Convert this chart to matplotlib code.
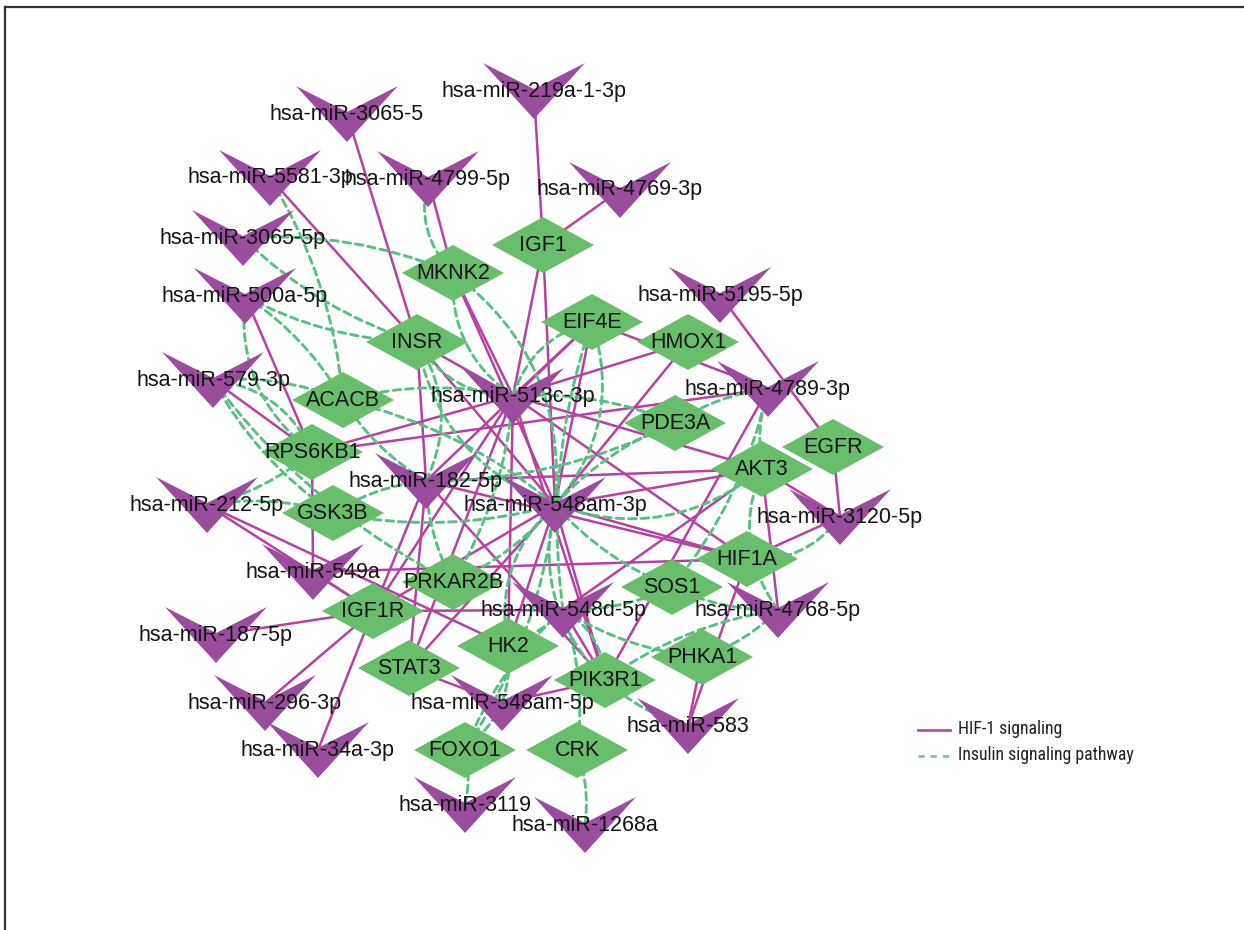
import matplotlib
matplotlib.use("Agg")
import matplotlib.pyplot as plt
from matplotlib.patches import Polygon, FancyArrowPatch
from matplotlib.lines import Line2D
from matplotlib import font_manager
from matplotlib.font_manager import FontProperties

# ---- network data -------------------------------------------------------
mirnas = [
    "hsa-miR-219a-1-3p", "hsa-miR-3065-5", "hsa-miR-5581-3p", "hsa-miR-4799-5p",
    "hsa-miR-4769-3p", "hsa-miR-3065-5p", "hsa-miR-500a-5p", "hsa-miR-579-3p",
    "hsa-miR-5195-5p", "hsa-miR-513c-3p", "hsa-miR-4789-3p", "hsa-miR-182-5p",
    "hsa-miR-548am-3p", "hsa-miR-212-5p", "hsa-miR-3120-5p", "hsa-miR-549a",
    "hsa-miR-4768-5p", "hsa-miR-548d-5p", "hsa-miR-187-5p", "hsa-miR-296-3p",
    "hsa-miR-34a-3p", "hsa-miR-548am-5p", "hsa-miR-583", "hsa-miR-3119",
    "hsa-miR-1268a",
]

genes = [
    "IGF1", "MKNK2", "EIF4E", "INSR", "HMOX1", "ACACB", "PDE3A", "RPS6KB1",
    "EGFR", "AKT3", "GSK3B", "HIF1A", "PRKAR2B", "SOS1", "IGF1R", "HK2",
    "PHKA1", "STAT3", "PIK3R1", "FOXO1", "CRK",
]

# miRNA-target links in the HIF-1 signaling pathway
hif1_edges = [
    ("hsa-miR-219a-1-3p", "IGF1"), ("hsa-miR-4769-3p", "IGF1"),
    ("hsa-miR-3065-5", "INSR"), ("hsa-miR-5581-3p", "INSR"),
    ("hsa-miR-4799-5p", "MKNK2"), ("hsa-miR-500a-5p", "RPS6KB1"),
    ("hsa-miR-579-3p", "RPS6KB1"), ("hsa-miR-5195-5p", "EGFR"),
    ("hsa-miR-4789-3p", "EIF4E"), ("hsa-miR-4789-3p", "PIK3R1"),
    ("hsa-miR-4789-3p", "RPS6KB1"),
    ("hsa-miR-3120-5p", "EGFR"), ("hsa-miR-3120-5p", "AKT3"),
    ("hsa-miR-3120-5p", "HIF1A"), ("hsa-miR-4768-5p", "AKT3"),
    ("hsa-miR-583", "PHKA1"), ("hsa-miR-583", "HIF1A"),
    ("hsa-miR-212-5p", "IGF1R"), ("hsa-miR-212-5p", "HK2"),
    ("hsa-miR-549a", "IGF1R"), ("hsa-miR-549a", "RPS6KB1"),
    ("hsa-miR-549a", "HIF1A"),
    ("hsa-miR-187-5p", "IGF1R"), ("hsa-miR-296-3p", "IGF1R"),
    ("hsa-miR-34a-3p", "IGF1R"),
    ("hsa-miR-548am-5p", "PIK3R1"), ("hsa-miR-548am-5p", "STAT3"),
    ("hsa-miR-548d-5p", "IGF1R"), ("hsa-miR-548d-5p", "PIK3R1"),
    ("hsa-miR-548d-5p", "AKT3"),
    ("hsa-miR-513c-3p", "IGF1"), ("hsa-miR-513c-3p", "MKNK2"),
    ("hsa-miR-513c-3p", "INSR"), ("hsa-miR-513c-3p", "EIF4E"),
    ("hsa-miR-513c-3p", "HMOX1"), ("hsa-miR-513c-3p", "RPS6KB1"),
    ("hsa-miR-513c-3p", "STAT3"), ("hsa-miR-513c-3p", "HK2"),
    ("hsa-miR-513c-3p", "PIK3R1"), ("hsa-miR-513c-3p", "HIF1A"),
    ("hsa-miR-513c-3p", "IGF1R"), ("hsa-miR-513c-3p", "AKT3"),
    ("hsa-miR-548am-3p", "IGF1"), ("hsa-miR-548am-3p", "MKNK2"),
    ("hsa-miR-548am-3p", "EIF4E"), ("hsa-miR-548am-3p", "HMOX1"),
    ("hsa-miR-548am-3p", "INSR"), ("hsa-miR-548am-3p", "AKT3"),
    ("hsa-miR-548am-3p", "HIF1A"), ("hsa-miR-548am-3p", "PIK3R1"),
    ("hsa-miR-548am-3p", "STAT3"), ("hsa-miR-548am-3p", "IGF1R"),
    ("hsa-miR-548am-3p", "HK2"),
    ("hsa-miR-182-5p", "INSR"), ("hsa-miR-182-5p", "AKT3"),
    ("hsa-miR-182-5p", "HIF1A"), ("hsa-miR-182-5p", "STAT3"),
    ("hsa-miR-182-5p", "IGF1R"), ("hsa-miR-182-5p", "PIK3R1"),
    ("hsa-miR-182-5p", "EIF4E"),
]

# miRNA-target links in the insulin signaling pathway
insulin_edges = [
    ("hsa-miR-4799-5p", "MKNK2"), ("hsa-miR-5581-3p", "ACACB"),
    ("hsa-miR-3065-5p", "INSR"), ("hsa-miR-3065-5p", "MKNK2"),
    ("hsa-miR-500a-5p", "INSR"), ("hsa-miR-500a-5p", "ACACB"),
    ("hsa-miR-500a-5p", "RPS6KB1"),
    ("hsa-miR-579-3p", "RPS6KB1"), ("hsa-miR-579-3p", "GSK3B"),
    ("hsa-miR-579-3p", "ACACB"), ("hsa-miR-579-3p", "PRKAR2B"),
    ("hsa-miR-212-5p", "GSK3B"), ("hsa-miR-212-5p", "RPS6KB1"),
    ("hsa-miR-513c-3p", "INSR"), ("hsa-miR-182-5p", "INSR"),
    ("hsa-miR-548am-3p", "INSR"),
    ("hsa-miR-513c-3p", "ACACB"), ("hsa-miR-182-5p", "ACACB"),
    ("hsa-miR-548am-3p", "ACACB"),
    ("hsa-miR-548am-3p", "GSK3B"), ("hsa-miR-182-5p", "GSK3B"),
    ("hsa-miR-513c-3p", "PDE3A"), ("hsa-miR-4789-3p", "PDE3A"),
    ("hsa-miR-548am-3p", "PDE3A"), ("hsa-miR-182-5p", "PDE3A"),
    ("hsa-miR-513c-3p", "EIF4E"), ("hsa-miR-548am-3p", "EIF4E"),
    ("hsa-miR-548d-5p", "EIF4E"),
    ("hsa-miR-548am-3p", "MKNK2"), ("hsa-miR-513c-3p", "MKNK2"),
    ("hsa-miR-4789-3p", "AKT3"), ("hsa-miR-4768-5p", "AKT3"),
    ("hsa-miR-548am-3p", "AKT3"),
    ("hsa-miR-4789-3p", "SOS1"), ("hsa-miR-548am-3p", "SOS1"),
    ("hsa-miR-4768-5p", "SOS1"), ("hsa-miR-548d-5p", "SOS1"),
    ("hsa-miR-548am-3p", "PRKAR2B"), ("hsa-miR-182-5p", "PRKAR2B"),
    ("hsa-miR-513c-3p", "PRKAR2B"),
    ("hsa-miR-548am-5p", "HK2"), ("hsa-miR-548d-5p", "HK2"),
    ("hsa-miR-548am-3p", "HK2"),
    ("hsa-miR-583", "PIK3R1"), ("hsa-miR-4768-5p", "PIK3R1"),
    ("hsa-miR-548d-5p", "PIK3R1"), ("hsa-miR-548am-3p", "PIK3R1"),
    ("hsa-miR-4768-5p", "PHKA1"), ("hsa-miR-548d-5p", "PHKA1"),
    ("hsa-miR-3120-5p", "HIF1A"),
    ("hsa-miR-3119", "FOXO1"), ("hsa-miR-548am-5p", "FOXO1"),
    ("hsa-miR-548d-5p", "FOXO1"), ("hsa-miR-548am-3p", "FOXO1"),
    ("hsa-miR-1268a", "CRK"), ("hsa-miR-548d-5p", "CRK"),
]

legend_labels = ["HIF-1 signaling", "Insulin signaling pathway"]

# ---- layout (pixel coordinates of node centres) -------------------------
layout = {
    "hsa-miR-219a-1-3p": (534, 91), "hsa-miR-3065-5": (347, 114),
    "hsa-miR-5581-3p": (270, 178), "hsa-miR-4799-5p": (428, 179),
    "hsa-miR-4769-3p": (620, 190), "hsa-miR-3065-5p": (243, 238),
    "hsa-miR-500a-5p": (245, 296), "hsa-miR-579-3p": (213, 380),
    "hsa-miR-5195-5p": (720, 295), "hsa-miR-513c-3p": (513, 396),
    "hsa-miR-4789-3p": (768, 389), "hsa-miR-182-5p": (426, 481),
    "hsa-miR-548am-3p": (555, 505), "hsa-miR-212-5p": (207, 505),
    "hsa-miR-3120-5p": (840, 517), "hsa-miR-549a": (313, 572),
    "hsa-miR-4768-5p": (778, 610), "hsa-miR-548d-5p": (563, 610),
    "hsa-miR-187-5p": (216, 635), "hsa-miR-296-3p": (265, 703),
    "hsa-miR-34a-3p": (318, 750), "hsa-miR-548am-5p": (502, 703),
    "hsa-miR-583": (688, 726), "hsa-miR-3119": (465, 805),
    "hsa-miR-1268a": (585, 825),
    "IGF1": (543, 245), "MKNK2": (453, 273), "EIF4E": (592, 322),
    "INSR": (417, 342), "HMOX1": (688, 342), "ACACB": (343, 400),
    "PDE3A": (675, 423), "RPS6KB1": (312, 452), "EGFR": (833, 447),
    "AKT3": (762, 469), "GSK3B": (333, 513), "HIF1A": (747, 559),
    "PRKAR2B": (453, 582), "SOS1": (672, 587), "IGF1R": (373, 611),
    "HK2": (508, 646), "PHKA1": (702, 657), "STAT3": (409, 668),
    "PIK3R1": (605, 680), "FOXO1": (465, 750), "CRK": (577, 750),
}

# ---- styles -------------------------------------------------------------
W, H = 1244, 930
SOLID = "#B8419F"
DASHED = "#58BF85"
MIR_FILL = "#9B4D9D"
GENE_FILL = "#69BE6C"
TEXT = "#141414"
HW, HH = 51, 28          # half width / height of node glyphs (px)

label_font = "Liberation Sans"


def pick_condensed_font():
    """Return FontProperties for a narrow sans face if one is installed."""
    fl = font_manager.fontManager.ttflist
    prefs = ["Liberation Sans Narrow", "Roboto Condensed", "Open Sans Condensed",
             "Noto Sans Condensed", "DejaVu Sans Condensed"]
    for p in prefs:
        for f in fl:
            if f.name == p and f.style == "normal" and f.weight in (400, "normal", "regular"):
                return FontProperties(fname=f.fname)
    for f in fl:
        if (f.stretch in ("condensed", "semi-condensed", "extra-condensed")
                and f.style == "normal" and "Mono" not in f.name
                and "Serif" not in f.name
                and f.weight in (400, "normal", "regular")):
            return FontProperties(fname=f.fname)
    return FontProperties(family="Liberation Sans")


fig = plt.figure(figsize=(W / 100, H / 100), dpi=100)
ax = fig.add_axes([0, 0, 1, 1])
ax.set_xlim(0, W)
ax.set_ylim(H, 0)
ax.axis("off")

# frame
ax.add_line(Line2D([5, W], [7, 7], color="#333333", lw=1.6, zorder=10))
ax.add_line(Line2D([5, 5], [7, H], color="#333333", lw=1.6, zorder=10))

hif_pairs = {frozenset(e) for e in hif1_edges}

for a, b in hif1_edges:
    (x1, y1), (x2, y2) = layout[a], layout[b]
    ax.plot([x1, x2], [y1, y2], color=SOLID, lw=1.8, zorder=1,
            solid_capstyle="round")

for i, (a, b) in enumerate(insulin_edges):
    rad = 0.28 if frozenset((a, b)) in hif_pairs else 0.12
    if i % 2:
        rad = -rad
    patch = FancyArrowPatch(layout[a], layout[b], arrowstyle="-",
                            connectionstyle=f"arc3,rad={rad}",
                            shrinkA=0, shrinkB=0, color=DASHED, lw=2.1,
                            linestyle=(0, (2.6, 1.7)), zorder=1.2)
    ax.add_patch(patch)

# gene nodes: diamonds
for g in genes:
    x, y = layout[g]
    ax.add_patch(Polygon([(x - HW, y), (x, y - HH), (x + HW, y), (x, y + HH)],
                         closed=True, facecolor=GENE_FILL, edgecolor="none",
                         zorder=2))

# miRNA nodes: downward "V" arrowheads
for m in mirnas:
    x, y = layout[m]
    ax.add_patch(Polygon([(x - HW, y - HH), (x, y - 2), (x + HW, y - HH),
                          (x, y + HH)],
                         closed=True, facecolor=MIR_FILL, edgecolor="none",
                         zorder=2))

for n in genes + mirnas:
    x, y = layout[n]
    ax.text(x, y, n, ha="center", va="center", fontsize=15.5,
            family=label_font, color=TEXT, zorder=3)

# legend
ax.add_line(Line2D([918, 950], [730, 730], color="#A358A6", lw=2.0, zorder=3))
ax.add_line(Line2D([918, 950], [756, 756], color="#7CC98B", lw=2.0,
                   linestyle=(0, (2.2, 2.2)), zorder=3))
fp = pick_condensed_font()
fp.set_size(14)
legend_texts = [
    ax.text(958, 729, legend_labels[0], ha="left", va="center",
            fontproperties=fp, color="#231F20"),
    ax.text(958, 755, legend_labels[1], ha="left", va="center",
            fontproperties=fp, color="#231F20"),
]

# keep the longer legend line close to its printed width
fig.canvas.draw()
renderer = fig.canvas.get_renderer()
wpx = legend_texts[1].get_window_extent(renderer).width
if wpx > 0:
    size = min(14.0, 14.0 * 178.0 / wpx)
    for t in legend_texts:
        t.set_fontsize(size)

fig.savefig("out.png", dpi=100)
